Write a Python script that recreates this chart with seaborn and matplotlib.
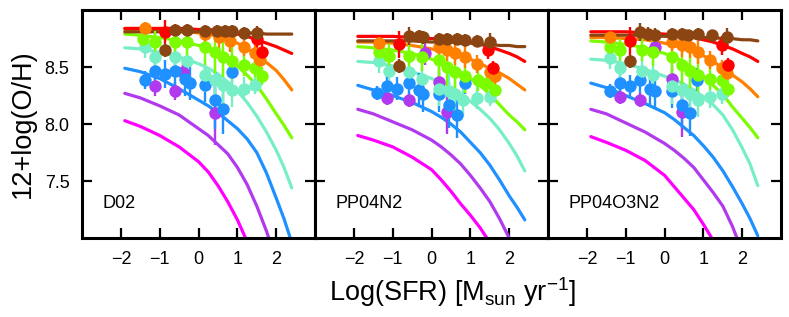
import numpy as np
import pandas as pd
import matplotlib
matplotlib.use("Agg")
import matplotlib.pyplot as plt
import seaborn as sns

# mass-bin colours, lowest to highest
BIN_COLORS = ["#FF00FF", "#B23AEE", "#1E90FF", "#76EEC6",
              "#7CFC00", "#FF7F00", "#FF0000", "#8B4513"]
PANELS = ["D02", "PP04N2", "PP04O3N2"]
X_TICKS = [-2, -1, 0, 1, 2]
Y_TICKS = [7.5, 8.0, 8.5]

# model curves, read at these log(SFR) values (one list per mass bin)
CURVE_X = [-1.9, -1.5, -1.0, -0.5, 0.0, 0.25, 0.5, 0.75, 1.0, 1.25, 1.5, 1.75, 2.0, 2.2, 2.4]

D02_CURVES = [
    [8.03, 7.98, 7.90, 7.80, 7.67, 7.58, 7.46, 7.32, 7.16, 6.97, 6.75, 6.50, 6.20, 6.00, 5.80],
    [8.27, 8.23, 8.16, 8.08, 7.96, 7.90, 7.82, 7.74, 7.62, 7.47, 7.28, 7.06, 6.80, 6.60, 6.40],
    [8.49, 8.46, 8.40, 8.31, 8.21, 8.16, 8.10, 8.03, 7.96, 7.87, 7.75, 7.57, 7.35, 7.17, 6.96],
    [8.67, 8.66, 8.63, 8.59, 8.53, 8.49, 8.44, 8.37, 8.29, 8.19, 8.07, 7.93, 7.77, 7.62, 7.44],
    [8.79, 8.78, 8.76, 8.73, 8.69, 8.66, 8.62, 8.57, 8.51, 8.43, 8.34, 8.22, 8.09, 7.99, 7.88],
    [8.83, 8.83, 8.83, 8.82, 8.80, 8.79, 8.77, 8.74, 8.71, 8.66, 8.61, 8.54, 8.47, 8.39, 8.30],
    [8.84, 8.84, 8.84, 8.84, 8.83, 8.83, 8.82, 8.81, 8.79, 8.77, 8.74, 8.71, 8.68, 8.65, 8.62],
    [8.81, 8.81, 8.81, 8.81, 8.81, 8.81, 8.81, 8.80, 8.80, 8.80, 8.80, 8.79, 8.79, 8.79, 8.79],
]
PP04N2_CURVES = [
    [7.90, 7.86, 7.80, 7.71, 7.60, 7.51, 7.41, 7.30, 7.20, 7.09, 6.96, 6.80, 6.60, 6.45, 6.30],
    [8.13, 8.09, 8.02, 7.95, 7.86, 7.80, 7.73, 7.65, 7.55, 7.44, 7.32, 7.17, 7.00, 6.85, 6.70],
    [8.34, 8.30, 8.25, 8.19, 8.11, 8.06, 8.00, 7.93, 7.84, 7.75, 7.64, 7.51, 7.37, 7.27, 7.16],
    [8.55, 8.54, 8.51, 8.46, 8.40, 8.36, 8.32, 8.26, 8.20, 8.13, 8.05, 7.95, 7.83, 7.72, 7.59],
    [8.68, 8.67, 8.65, 8.62, 8.57, 8.54, 8.50, 8.45, 8.40, 8.34, 8.26, 8.17, 8.08, 8.02, 7.95],
    [8.72, 8.72, 8.71, 8.69, 8.66, 8.64, 8.62, 8.60, 8.57, 8.53, 8.49, 8.45, 8.40, 8.35, 8.30],
    [8.77, 8.77, 8.77, 8.76, 8.75, 8.75, 8.74, 8.73, 8.72, 8.70, 8.68, 8.65, 8.62, 8.59, 8.55],
    [8.73, 8.73, 8.73, 8.73, 8.72, 8.72, 8.72, 8.71, 8.71, 8.70, 8.70, 8.69, 8.69, 8.68, 8.68],
]
PP04O3N2_CURVES = [
    [7.89, 7.84, 7.77, 7.68, 7.55, 7.45, 7.35, 7.25, 7.12, 6.98, 6.80, 6.60, 6.40, 6.20, 6.00],
    [8.13, 8.09, 8.01, 7.93, 7.83, 7.77, 7.70, 7.62, 7.51, 7.40, 7.28, 7.10, 6.88, 6.70, 6.50],
    [8.36, 8.32, 8.25, 8.18, 8.10, 8.04, 7.97, 7.90, 7.81, 7.71, 7.59, 7.45, 7.30, 7.17, 7.02],
    [8.57, 8.56, 8.53, 8.48, 8.42, 8.39, 8.35, 8.30, 8.24, 8.17, 8.08, 7.95, 7.79, 7.65, 7.46],
    [8.73, 8.72, 8.70, 8.67, 8.62, 8.59, 8.54, 8.49, 8.42, 8.34, 8.26, 8.15, 8.05, 7.97, 7.88],
    [8.76, 8.76, 8.75, 8.74, 8.71, 8.69, 8.67, 8.64, 8.60, 8.55, 8.49, 8.43, 8.37, 8.31, 8.24],
    [8.81, 8.81, 8.81, 8.80, 8.79, 8.78, 8.77, 8.76, 8.74, 8.72, 8.69, 8.66, 8.62, 8.59, 8.55],
    [8.78, 8.78, 8.78, 8.78, 8.77, 8.77, 8.77, 8.76, 8.76, 8.76, 8.75, 8.75, 8.74, 8.74, 8.73],
]

# measured points: log(SFR), 12+log(O/H), error, mass bin
D02_X = [-1.12, -0.6, -0.39, 0.43,
         -1.37, -1.12, -0.86, -0.6, -0.34, -0.21, 0.17, 0.43, 0.64, 0.86,
         -1.37, -1.12, -0.6, -0.3, 0.17, 0.43, 0.64, 0.86, 1.16, 1.46,
         -1.42, -1.12, -0.6, -0.3, 0.17, 0.43, 0.64, 0.86, 1.16, 1.46, 1.63,
         -1.37, 0.17, 0.52, 0.82, 1.16, 1.46, 1.59,
         -0.86, 1.5, 1.63,
         -0.86, -0.6, -0.31, 0.17, 0.47, 0.69, 0.86, 1.16, 1.51]
D02_Y = [8.33, 8.29, 8.46, 8.10,
         8.39, 8.47, 8.44, 8.47, 8.40, 8.36, 8.34, 8.21, 8.13, 8.46,
         8.68, 8.59, 8.59, 8.55, 8.43, 8.39, 8.34, 8.30, 8.31, 8.34,
         8.75, 8.72, 8.72, 8.72, 8.68, 8.63, 8.59, 8.55, 8.52, 8.49, 8.42,
         8.84, 8.79, 8.76, 8.73, 8.68, 8.62, 8.56,
         8.81, 8.75, 8.63,
         8.65, 8.83, 8.83, 8.82, 8.82, 8.82, 8.82, 8.80, 8.80]
D02_ERR = [0.08, 0.08, 0.10, 0.28,
           0.08, 0.10, 0.12, 0.15, 0.15, 0.15, 0.15, 0.25, 0.22, 0.10,
           0.10, 0.12, 0.12, 0.12, 0.15, 0.18, 0.18, 0.15, 0.10, 0.08,
           0.08, 0.10, 0.10, 0.12, 0.16, 0.18, 0.18, 0.15, 0.10, 0.08, 0.08,
           0.06, 0.08, 0.10, 0.10, 0.08, 0.08, 0.08,
           0.10, 0.08, 0.08,
           0.06, 0.05, 0.05, 0.05, 0.05, 0.05, 0.05, 0.05, 0.06]
D02_BIN = [1] * 4 + [2] * 10 + [3] * 10 + [4] * 11 + [5] * 7 + [6] * 3 + [7] * 9

PP04N2_X = [-1.14, -0.59, -0.16, 0.18, 0.39,
            -1.4, -1.14, -0.89, -0.59, -0.33, -0.21, 0.18, 0.44, 0.65, 0.86,
            -1.36, -1.1, -0.59, -0.25, 0.18, 0.44, 0.61, 0.82, 1.16, 1.5,
            -1.36, -1.1, -0.59, -0.25, 0.18, 0.39, 0.61, 0.86, 1.2, 1.42, 1.63,
            -1.36, 0.18, 0.39, 0.61, 0.86, 1.16, 1.5, 1.63,
            -0.85, 1.46, 1.59,
            -0.85, -0.59, -0.33, -0.21, 0.18, 0.39, 0.65, 0.86, 1.16, 1.5]
PP04N2_Y = [8.23, 8.21, 8.62, 8.37, 8.11,
            8.27, 8.33, 8.31, 8.36, 8.30, 8.26, 8.26, 8.17, 8.08, 8.36,
            8.55, 8.47, 8.46, 8.40, 8.31, 8.29, 8.26, 8.21, 8.23, 8.24,
            8.63, 8.60, 8.60, 8.59, 8.56, 8.50, 8.46, 8.42, 8.39, 8.36, 8.30,
            8.71, 8.68, 8.65, 8.62, 8.59, 8.53, 8.46, 8.42,
            8.70, 8.65, 8.49,
            8.51, 8.77, 8.77, 8.76, 8.75, 8.75, 8.75, 8.74, 8.73, 8.72]
PP04N2_ERR = [0.06, 0.06, 0.10, 0.12, 0.20,
              0.06, 0.10, 0.10, 0.12, 0.15, 0.15, 0.15, 0.20, 0.20, 0.10,
              0.10, 0.12, 0.12, 0.12, 0.15, 0.18, 0.18, 0.15, 0.10, 0.08,
              0.08, 0.10, 0.10, 0.12, 0.16, 0.20, 0.20, 0.15, 0.10, 0.08, 0.07,
              0.05, 0.08, 0.10, 0.10, 0.10, 0.08, 0.07, 0.07,
              0.12, 0.08, 0.06,
              0.06, 0.08, 0.06, 0.06, 0.05, 0.05, 0.05, 0.05, 0.05, 0.08]
PP04N2_BIN = [1] * 5 + [2] * 10 + [3] * 10 + [4] * 11 + [5] * 8 + [6] * 3 + [7] * 10

PP04O3N2_X = [-1.14, -0.63, -0.24, 0.18, 0.44,
              -1.4, -1.14, -0.89, -0.63, -0.37, -0.24, 0.18, 0.44, 0.66, 0.83,
              -1.4, -1.14, -0.59, -0.29, 0.18, 0.44, 0.66, 0.87, 1.17, 1.47,
              -1.4, -1.14, -0.59, -0.29, 0.18, 0.44, 0.66, 0.87, 1.17, 1.47, 1.64,
              -1.4, 0.18, 0.44, 0.66, 0.87, 1.17, 1.47, 1.6,
              -0.89, 1.47, 1.64,
              -0.89, -0.63, -0.42, -0.24, 0.18, 0.44, 0.61, 0.87, 1.21, 1.6]
PP04O3N2_Y = [8.24, 8.21, 8.68, 8.40, 8.11,
              8.29, 8.36, 8.33, 8.39, 8.31, 8.29, 8.29, 8.17, 8.10, 8.39,
              8.58, 8.49, 8.47, 8.43, 8.33, 8.30, 8.26, 8.21, 8.24, 8.26,
              8.68, 8.65, 8.65, 8.63, 8.59, 8.52, 8.47, 8.43, 8.40, 8.39, 8.31,
              8.76, 8.72, 8.69, 8.68, 8.63, 8.56, 8.49, 8.45,
              8.73, 8.69, 8.52,
              8.55, 8.81, 8.79, 8.78, 8.79, 8.79, 8.78, 8.79, 8.78, 8.76]
PP04O3N2_ERR = [0.06, 0.06, 0.10, 0.12, 0.22,
                0.06, 0.10, 0.10, 0.12, 0.15, 0.15, 0.15, 0.20, 0.20, 0.10,
                0.10, 0.12, 0.12, 0.12, 0.15, 0.18, 0.18, 0.15, 0.10, 0.08,
                0.08, 0.10, 0.10, 0.12, 0.16, 0.20, 0.20, 0.15, 0.10, 0.08, 0.07,
                0.05, 0.08, 0.10, 0.10, 0.10, 0.08, 0.07, 0.07,
                0.12, 0.08, 0.06,
                0.06, 0.08, 0.06, 0.06, 0.05, 0.05, 0.05, 0.05, 0.05, 0.08]
PP04O3N2_BIN = [1] * 5 + [2] * 10 + [3] * 10 + [4] * 11 + [5] * 8 + [6] * 3 + [7] * 10

curves_by_panel = [D02_CURVES, PP04N2_CURVES, PP04O3N2_CURVES]
points_by_panel = [
    (D02_X, D02_Y, D02_ERR, D02_BIN),
    (PP04N2_X, PP04N2_Y, PP04N2_ERR, PP04N2_BIN),
    (PP04O3N2_X, PP04O3N2_Y, PP04O3N2_ERR, PP04O3N2_BIN),
]

sns.set_style("ticks")
plt.rcParams['font.family'] = ['Liberation Sans', 'DejaVu Sans']
plt.rcParams['mathtext.fontset'] = 'custom'
plt.rcParams['mathtext.rm'] = 'Liberation Sans'
for key in ['text.color', 'axes.labelcolor', 'xtick.color', 'ytick.color', 'axes.edgecolor']:
    plt.rcParams[key] = 'black'

fig, axes = plt.subplots(1, 3, figsize=(7.89, 3.17), dpi=100, sharey=True)
fig.subplots_adjust(left=0.104, right=0.990, top=0.968, bottom=0.249, wspace=0)

palette = {i: c for i, c in enumerate(BIN_COLORS)}

for ax, name, curves, pts in zip(axes, PANELS, curves_by_panel, points_by_panel):
    rows = []
    for b, ys in enumerate(curves):
        for x, y in zip(CURVE_X, ys):
            rows.append((b, x, y))
    cdf = pd.DataFrame(rows, columns=["bin", "sfr", "oh"])
    sns.lineplot(data=cdf, x="sfr", y="oh", hue="bin", palette=palette,
                 units="bin", estimator=None, sort=False, lw=2.3,
                 legend=False, ax=ax)

    pdf = pd.DataFrame({"sfr": pts[0], "oh": pts[1], "err": pts[2], "bin": pts[3]})
    for b in sorted(pdf["bin"].unique()):
        sub = pdf[pdf["bin"] == b]
        ax.errorbar(sub["sfr"], sub["oh"], yerr=sub["err"], fmt="none",
                    ecolor=BIN_COLORS[b], elinewidth=1.7, capsize=0, zorder=3)
        sns.scatterplot(data=sub, x="sfr", y="oh", color=BIN_COLORS[b], s=80,
                        linewidth=0, legend=False, ax=ax, zorder=4)

    ax.set_xlim(-3, 3)
    ax.set_ylim(7.0, 9.0)
    ax.set_xticks(X_TICKS)
    ax.set_yticks(Y_TICKS)
    ax.set_yticklabels(["7.5", "8.0", "8.5"])
    ax.tick_params(direction="in", length=7, width=1.6, top=True, right=True,
                   labelsize=13, pad=9, colors="black")
    for s in ax.spines.values():
        s.set_linewidth(2.2)
        s.set_color("black")
    ax.set_xlabel("")
    ax.set_ylabel("")
    ax.text(-2.48, 7.26, name, fontsize=13, va="baseline", ha="left", color="black")

axes[0].set_ylabel("12+log(O/H)", fontsize=19.5, labelpad=6, color="black")
fig.text(0.573, 0.079, r"Log(SFR) [M$_{\rm sun}$ yr$^{-1}$]", fontsize=19.5,
         ha="center", va="center", color="black")

fig.savefig("out.png", dpi=100)
